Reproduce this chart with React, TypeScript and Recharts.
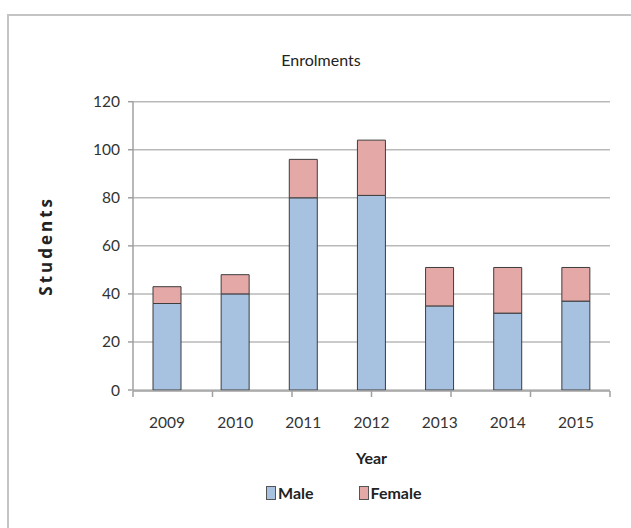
import React from "react";
import {
  BarChart,
  Bar,
  XAxis,
  YAxis,
  CartesianGrid,
  Label,
} from "recharts";

const years = ["2009", "2010", "2011", "2012", "2013", "2014", "2015"];
const male = [36, 40, 80, 81, 35, 32, 37];
const female = [7, 8, 16, 23, 16, 19, 14];
const yTicks = [0, 20, 40, 60, 80, 100, 120];
const edgeTicks = [0, 1, 2, 3, 4, 5, 6, 7];

const FONT = "Lato, 'Open Sans', sans-serif";
const MALE_FILL = "#a7c1e0";
const FEMALE_FILL = "#e4a9a7";
const BAR_STROKE = "#3d3d3d";
const GRID = "#b9b9b9";

const data = years.map((y, i) => ({ year: y, Male: male[i], Female: female[i] }));

const LegendItem = ({ color, text, gap }: { color: string; text: string; gap: number }) => (
  <div style={{ display: "flex", alignItems: "center", marginRight: gap }}>
    <div
      style={{
        width: 8,
        height: 12,
        background: color,
        border: "1px solid #555",
        marginRight: 2,
      }}
    />
    <span>{text}</span>
  </div>
);

const App = () => {
  return (
    <div
      style={{
        position: "absolute",
        left: 0,
        top: 0,
        width: 631,
        height: 528,
        overflow: "hidden",
        background: "#fff",
        fontFamily: FONT,
      }}
    >
      <div
        style={{
          position: "absolute",
          left: 7,
          top: 14,
          width: 660,
          height: 560,
          border: "2px solid #c4c4c4",
        }}
      />
      <div
        style={{
          position: "absolute",
          left: 0,
          width: 642,
          top: 50,
          textAlign: "center",
          fontSize: 16,
          color: "#222",
        }}
      >
        Enrolments
      </div>
      <BarChart
        width={631}
        height={528}
        data={data}
        margin={{ top: 101.7, right: 21, left: 83, bottom: 136 }}
        style={{ position: "absolute", left: 0, top: 0 }}
      >
        <CartesianGrid vertical={false} stroke={GRID} strokeWidth={1.5} />
        <XAxis
          dataKey="year"
          height={1}
          axisLine={false}
          tickLine={false}
          tickSize={0}
          tickMargin={27}
          tick={{ fontSize: 15.5, fill: "#333", fontFamily: FONT }}
        >
          <Label
            value="Year"
            position="bottom"
            offset={62}
            style={{ fontSize: 16, fill: "#222", fontFamily: FONT, fontWeight: 700 }}
          />
        </XAxis>
        <XAxis
          xAxisId="edges"
          type="number"
          domain={[0, 7]}
          ticks={edgeTicks}
          height={1}
          tickSize={6}
          tickFormatter={() => ""}
          stroke="#a0a0a0"
          strokeWidth={1.5}
        />
        <YAxis
          width={50}
          domain={[0, 120]}
          ticks={yTicks}
          tickSize={5}
          tickMargin={8}
          stroke="#a0a0a0"
          strokeWidth={1.5}
          tick={{ fontSize: 15.5, fill: "#333", fontFamily: FONT }}
        >
          <Label
            value="Students"
            angle={-90}
            position="left"
            offset={37}
            style={{
              fontSize: 17,
              fill: "#222",
              fontFamily: "'Open Sans', sans-serif",
              fontWeight: 700,
              letterSpacing: 3,
              textAnchor: "middle",
            }}
          />
        </YAxis>
        <Bar
          dataKey="Male"
          stackId="a"
          barSize={28}
          fill={MALE_FILL}
          stroke={BAR_STROKE}
          strokeWidth={1}
          isAnimationActive={false}
        />
        <Bar
          dataKey="Female"
          stackId="a"
          barSize={28}
          fill={FEMALE_FILL}
          stroke={BAR_STROKE}
          strokeWidth={1}
          isAnimationActive={false}
        />
      </BarChart>
      <div
        style={{
          position: "absolute",
          left: 266,
          top: 483,
          display: "flex",
          fontSize: 16,
          color: "#222",
          fontWeight: 700,
        }}
      >
        <LegendItem color={MALE_FILL} text="Male" gap={45} />
        <LegendItem color={FEMALE_FILL} text="Female" gap={0} />
      </div>
    </div>
  );
};

export default App;
